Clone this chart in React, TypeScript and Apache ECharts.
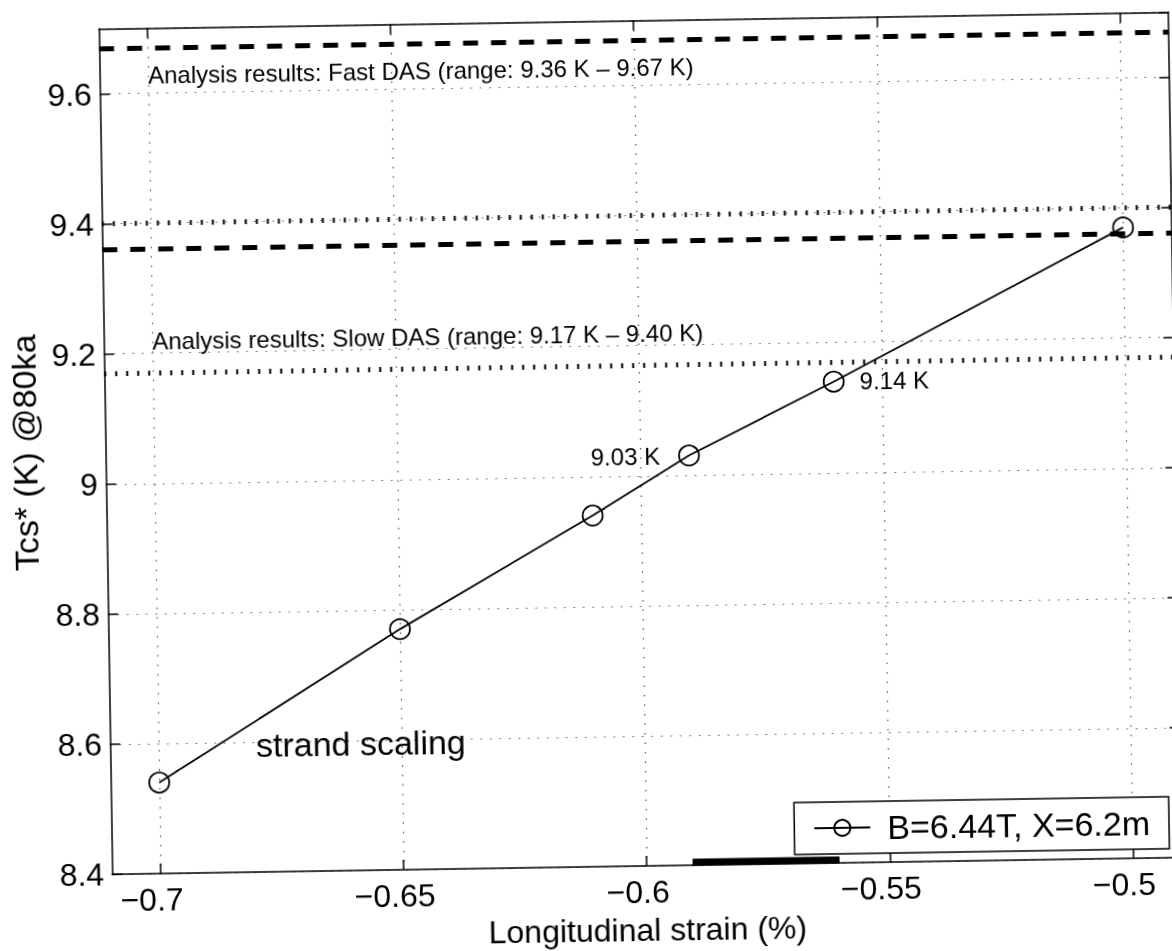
import React, { useEffect, useRef } from "react";
import * as echarts from "echarts";

// ---- data ----
const strain = [-0.7, -0.65, -0.61, -0.59, -0.56, -0.5];
const tcs = [8.54, 8.77, 8.94, 9.03, 9.14, 9.37];
const pointLabels = ["", "", "", "9.03 K", "9.14 K", ""];
const pointLabelSide = ["", "", "", "left", "right", ""];
const seriesName = "B=6.44T, X=6.2m";

const xTicks = [-0.7, -0.65, -0.6, -0.55, -0.5];
const xRange = [-0.71, -0.49];
const yRange = [8.4, 9.7];
const yStep = 0.2;

const fastDAS = [9.36, 9.67];
const slowDAS = [9.17, 9.4];

const annotationTexts = [
  "Analysis results: Fast DAS (range: 9.36 K \u2013 9.67 K)",
  "Analysis results: Slow DAS (range: 9.17 K \u2013 9.40 K)",
  "strand scaling",
];
const annotationX = [-0.7, -0.7, -0.68];
const annotationY = [9.628, 9.218, 8.595];
const annotationSize = [24, 24, 34];

const FONT = "Liberation Sans, Arial, Helvetica, sans-serif";

function fmtX(v: number) {
  const s = String(+Math.abs(v).toFixed(2));
  return (v < 0 ? "\u2212" : "") + s;
}
function fmtY(v: number) {
  return String(+v.toFixed(1));
}

export default function App() {
  const ref = useRef<HTMLDivElement>(null);

  useEffect(() => {
    if (!ref.current) return;
    const chart = echarts.init(ref.current, null, { renderer: "svg" });

    const gridDot = { color: "#555", width: 1.2, type: [1.5, 8] as any };

    const mainData = strain.map((x, i) => {
      const item: any = { value: [x, tcs[i]] };
      if (pointLabels[i]) {
        item.label = {
          show: true,
          formatter: pointLabels[i],
          position: pointLabelSide[i],
          distance: pointLabelSide[i] === "left" ? 18 : 15,
          fontSize: 24,
          fontFamily: FONT,
          color: "#000",
        };
      }
      return item;
    });

    const markData: any[] = [
      ...fastDAS.map((v) => ({
        yAxis: v,
        lineStyle: { color: "#000", width: 5, type: [15, 13] },
      })),
      ...slowDAS.map((v) => ({
        yAxis: v,
        lineStyle: { color: "#000", width: 5, type: [2, 9] },
      })),
    ];

    const annData = annotationTexts.map((t, i) => ({
      value: [annotationX[i], annotationY[i]],
      label: {
        show: true,
        formatter: t,
        position: [0, 0],
        align: "left",
        verticalAlign: "middle",
        fontSize: annotationSize[i],
        fontFamily: FONT,
        color: "#000",
        opacity: 1,
      },
    }));

    const option: any = {
      animation: false,
      backgroundColor: "#fff",
      textStyle: { fontFamily: FONT, color: "#000" },
      grid: { left: 101, top: 20.5, width: 1074, height: 847, containLabel: false },
      legend: {
        data: [seriesName],
        right: 17,
        bottom: 94,
        orient: "horizontal",
        backgroundColor: "#fff",
        borderColor: "#000",
        borderWidth: 1.5,
        borderRadius: 0,
        padding: [9, 19, 9, 19],
        itemWidth: 56,
        itemHeight: 20,
        textStyle: { fontSize: 34, fontFamily: FONT, color: "#000", padding: [0, 0, 0, 12] },
      },
      xAxis: [
        {
          type: "value",
          min: xRange[0],
          max: xRange[1],
          position: "bottom",
          name: "Longitudinal strain (%)",
          nameLocation: "middle",
          nameGap: 48,
          nameTextStyle: { fontSize: 32, fontFamily: FONT, color: "#000" },
          axisLine: { show: true, onZero: false, lineStyle: { color: "#000", width: 1.5 } },
          axisTick: { show: true, inside: true, length: 10, customValues: xTicks, lineStyle: { color: "#000", width: 1.5 } },
          axisLabel: {
            show: true,
            customValues: xTicks,
            formatter: fmtX,
            fontSize: 32,
            fontFamily: FONT,
            color: "#000",
            margin: 10,
            padding: [0, 18, 0, 0],
          },
          splitLine: { show: true, lineStyle: gridDot },
        },
        {
          type: "value",
          min: xRange[0],
          max: xRange[1],
          position: "top",
          axisLine: { show: true, onZero: false, lineStyle: { color: "#000", width: 1.5 } },
          axisTick: { show: true, inside: true, length: 10, customValues: xTicks, lineStyle: { color: "#000", width: 1.5 } },
          axisLabel: { show: false },
          splitLine: { show: false },
        },
      ],
      yAxis: [
        {
          type: "value",
          min: yRange[0],
          max: yRange[1],
          interval: yStep,
          position: "left",
          name: "Tcs* (K) @80ka",
          nameLocation: "middle",
          nameGap: 54,
          nameTextStyle: { fontSize: 34, fontFamily: FONT, color: "#000" },
          axisLine: { show: true, onZero: false, lineStyle: { color: "#000", width: 1.5 } },
          axisTick: { show: true, inside: true, length: 10, lineStyle: { color: "#000", width: 1.5 } },
          axisLabel: {
            show: true,
            formatter: fmtY,
            fontSize: 32,
            fontFamily: FONT,
            color: "#000",
            margin: 8,
            showMaxLabel: false,
          },
          splitLine: { show: true, lineStyle: gridDot },
        },
        {
          type: "value",
          min: yRange[0],
          max: yRange[1],
          interval: yStep,
          position: "right",
          axisLine: { show: true, onZero: false, lineStyle: { color: "#000", width: 1.5 } },
          axisTick: { show: true, inside: true, length: 10, lineStyle: { color: "#000", width: 1.5 } },
          axisLabel: { show: false },
          splitLine: { show: false },
        },
      ],
      series: [
        {
          name: seriesName,
          type: "line",
          xAxisIndex: 0,
          yAxisIndex: 0,
          data: mainData,
          symbol: "circle",
          symbolSize: 20,
          itemStyle: { color: "rgba(255,255,255,0)", borderColor: "#000", borderWidth: 1.8 },
          lineStyle: { color: "#000", width: 1.8 },
          z: 5,
          markLine: {
            silent: true,
            symbol: ["none", "none"],
            label: { show: false },
            data: markData,
          },
        },
        {
          name: "annotations",
          type: "scatter",
          xAxisIndex: 0,
          yAxisIndex: 0,
          symbolSize: 0,
          silent: true,
          itemStyle: { opacity: 1 },
          data: annData,
          z: 6,
        },
      ],
      graphic: [
        {
          type: "rect",
          shape: { x: 686, y: 859.5, width: 147, height: 7 },
          style: { fill: "#000" },
          silent: true,
          z: 10,
        },
      ],
    };

    chart.setOption(option);
    return () => chart.dispose();
  }, []);

  return (
    <div
      ref={ref}
      style={{
        position: "fixed",
        left: 0,
        top: 0,
        width: 1180,
        height: 951,
        transform: "rotate(-0.9deg)",
        transformOrigin: "638px 444px",
        background: "#fff",
      }}
    />
  );
}
